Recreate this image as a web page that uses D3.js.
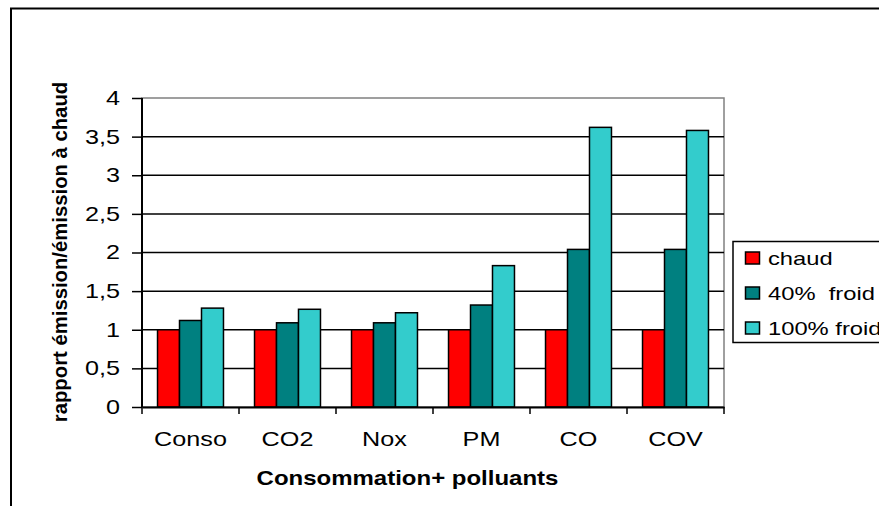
<!DOCTYPE html>
<html>
<head>
<meta charset="utf-8">
<script src="https://cdn.jsdelivr.net/npm/d3@7"></script>
<style>
  body { margin: 0; background: #fff; }
  svg { display: block; font-family: "Liberation Sans", Arial, sans-serif; }
  text { white-space: pre; }
</style>
</head>
<body>
<svg id="chart"></svg>
<script>
var categories = ["Conso", "CO2", "Nox", "PM", "CO", "COV"];
var seriesNames = ["chaud", "40%  froid", "100% froid"];
var chaud = [1, 1, 1, 1, 1, 1];
var froid40 = [1.12, 1.09, 1.09, 1.32, 2.04, 2.04];
var froid100 = [1.28, 1.265, 1.22, 1.83, 3.62, 3.58];
var yTicks = [0, 0.5, 1, 1.5, 2, 2.5, 3, 3.5, 4];

var colors = ["#ff0000", "#008080", "#33cccc"];
var svgWidth = 879, svgHeight = 506;
var margin = { left: 142, top: 98, right: 879 - 724, bottom: 506 - 407 };
var stretch = 1.26; // the source text is drawn wider than normal
var svg = d3.select("#chart").attr("width", svgWidth).attr("height", svgHeight);

var series = [chaud, froid40, froid100];

// outer frame (cut off at right and bottom like the source)
svg.append("rect")
  .attr("x", 11).attr("y", 8.5)
  .attr("width", 900).attr("height", 520)
  .attr("fill", "none").attr("stroke", "#000").attr("stroke-width", 2);

var xScale = d3.scaleBand()
  .domain(categories)
  .range([margin.left, svgWidth - margin.right]);
var inner = d3.scaleBand()
  .domain(d3.range(series.length))
  .range([0, xScale.bandwidth() * 0.68])
  .padding(0);
var yScale = d3.scaleLinear()
  .domain([0, 4])
  .range([svgHeight - margin.bottom, margin.top]);

// plot area border
svg.append("rect")
  .attr("x", margin.left).attr("y", margin.top)
  .attr("width", svgWidth - margin.right - margin.left)
  .attr("height", yScale(0) - margin.top)
  .attr("fill", "none").attr("stroke", "#808080").attr("stroke-width", 1.5);

// grid lines
svg.append("g")
  .selectAll("line")
  .data(yTicks.slice(1, -1))
  .enter()
  .append("line")
  .attr("x1", margin.left).attr("x2", svgWidth - margin.right)
  .attr("y1", function (d) { return yScale(d); })
  .attr("y2", function (d) { return yScale(d); })
  .attr("stroke", "#000").attr("stroke-width", 1.5);

// bars
var offset = xScale.bandwidth() * 0.16;
var groups = svg.append("g")
  .selectAll("g")
  .data(categories)
  .enter()
  .append("g")
  .attr("transform", function (d) { return "translate(" + (xScale(d) + offset) + ",0)"; });

groups.selectAll("rect")
  .data(function (d, i) { return series.map(function (s, k) { return { k: k, v: s[i] }; }); })
  .enter()
  .append("rect")
  .attr("x", function (d) { return inner(d.k); })
  .attr("width", inner.bandwidth())
  .attr("y", function (d) { return yScale(d.v); })
  .attr("height", function (d) { return yScale(0) - yScale(d.v); })
  .attr("fill", function (d) { return colors[d.k]; })
  .attr("stroke", "#000").attr("stroke-width", 1.5);

// axes
var yAxis = d3.axisLeft(yScale)
  .tickValues(yTicks)
  .tickSize(10)
  .tickFormat(function (d) { return String(d).replace(".", ","); });
var yG = svg.append("g")
  .attr("transform", "translate(" + margin.left + ",0)")
  .call(yAxis);
yG.select(".domain").attr("stroke", "#000").attr("stroke-width", 2).attr("d", "M0," + yScale(0) + "V" + margin.top);
yG.selectAll(".tick line").attr("stroke", "#000").attr("stroke-width", 1.5);
yG.selectAll("text")
  .attr("font-size", 20).attr("fill", "#000")
  .attr("font-family", "Liberation Sans, Arial, sans-serif")
  .attr("x", -22 / stretch)
  .attr("transform", "scale(" + stretch + ",1)");

var xAxis = d3.axisBottom(xScale).tickSize(0).tickPadding(25);
var xG = svg.append("g")
  .attr("transform", "translate(0," + yScale(0) + ")")
  .call(xAxis);
xG.select(".domain").attr("stroke", "#000").attr("stroke-width", 2);
xG.selectAll("text")
  .attr("font-size", 20).attr("fill", "#000")
  .attr("font-family", "Liberation Sans, Arial, sans-serif")
  .attr("transform", "scale(" + stretch + ",1)");
// category separator ticks
xG.append("g").selectAll("line")
  .data(categories.concat(["end"]))
  .enter()
  .append("line")
  .attr("x1", function (d) { return d === "end" ? xScale.range()[1] : xScale(d); })
  .attr("x2", function (d) { return d === "end" ? xScale.range()[1] : xScale(d); })
  .attr("y1", 0).attr("y2", 7)
  .attr("stroke", "#000").attr("stroke-width", 1.5);

// axis titles
svg.append("text")
  .attr("transform", "translate(407.5,485) scale(1.2,1)")
  .attr("text-anchor", "middle")
  .attr("font-size", 20).attr("font-weight", "bold")
  .text("Consommation+ polluants");

svg.append("text")
  .attr("transform", "translate(67," + ((margin.top + yScale(0)) / 2 - 0.5) + ") rotate(-90)")
  .attr("text-anchor", "middle")
  .attr("font-size", 20.3).attr("font-weight", "bold")
  .text("rapport émission/émission à chaud");

// legend
var legend = svg.append("g");
legend.append("rect")
  .attr("x", 733).attr("y", 241.5)
  .attr("width", 200).attr("height", 101)
  .attr("fill", "#fff").attr("stroke", "#000").attr("stroke-width", 1.5);
var items = legend.selectAll("g.item")
  .data(seriesNames)
  .enter()
  .append("g")
  .attr("class", "item")
  .attr("transform", function (d, i) { return "translate(745.5," + (252 + i * 35) + ")"; });
items.append("rect")
  .attr("width", 14).attr("height", 12)
  .attr("fill", function (d, i) { return colors[i]; })
  .attr("stroke", "#000").attr("stroke-width", 1.5);
items.append("text")
  .attr("transform", "translate(22.5,13) scale(1.25,1)")
  .attr("font-size", 19)
  .text(function (d) { return d; });
</script>
</body>
</html>
